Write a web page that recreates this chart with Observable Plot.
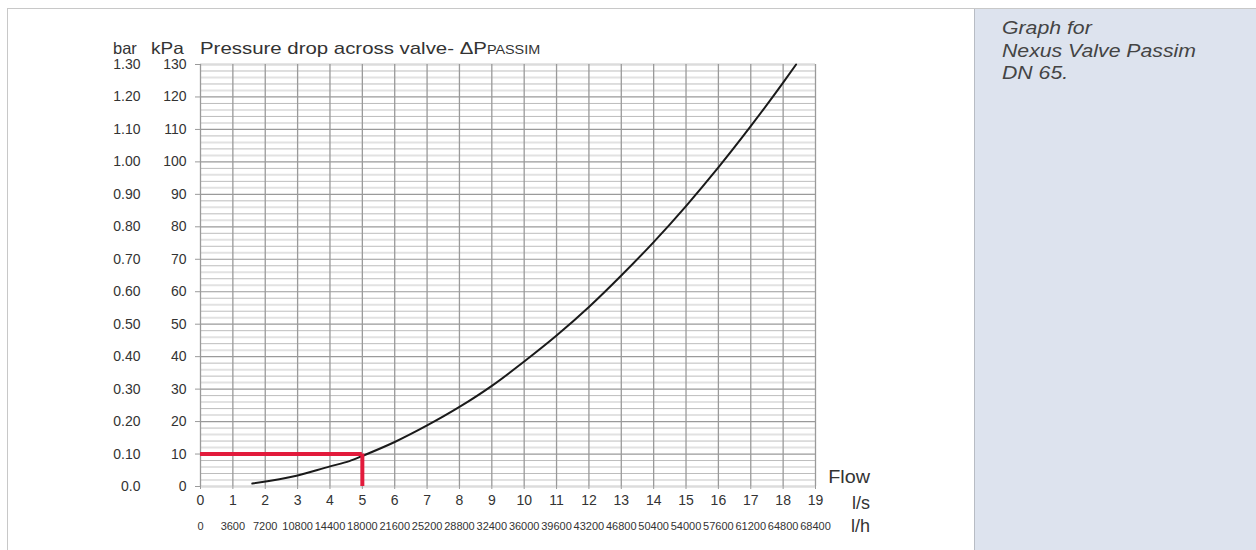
<!DOCTYPE html>
<html><head><meta charset="utf-8">
<script src="https://cdn.jsdelivr.net/npm/d3@7"></script>
<script src="https://cdn.jsdelivr.net/npm/@observablehq/plot@0.6"></script>
<style>
body{margin:0;background:#fff;font-family:"Liberation Sans",Arial,sans-serif;}
#wrap{position:relative;width:1256px;height:550px;overflow:hidden;background:#fff;}
#frame{position:absolute;left:7px;top:8px;width:1249px;height:542px;border-left:1px solid #c8c8c8;border-top:1px solid #c8c8c8;}
#panel{position:absolute;left:974px;top:9px;width:282px;height:541px;background:#dde3ee;border-left:1px solid #b8bcc4;}
#panel p{margin:0;position:absolute;left:27px;top:8px;font-style:italic;font-size:18px;line-height:22.5px;color:#444;transform:scaleX(1.18);transform-origin:0 0;white-space:nowrap;}
#chart{position:absolute;left:0;top:0;}
.lbl{position:absolute;color:#333;white-space:nowrap;line-height:1;}
</style></head>
<body>
<div id="wrap">
  <div id="frame"></div>
  <div id="panel"><p>Graph for<br>Nexus Valve Passim<br>DN 65.</p></div>
  <div id="chart"></div>
  <div class="lbl" style="left:113px;top:40px;font-size:16.5px;">bar</div>
  <div class="lbl" style="left:151px;top:40px;font-size:16.5px;transform:scaleX(1.15);transform-origin:0 0;">kPa</div>
  <div class="lbl" style="left:200px;top:39.5px;font-size:17px;transform:scaleX(1.2);transform-origin:0 0;">Pressure drop across valve- ΔP<span style="font-size:12px">PASSIM</span></div>
  <div class="lbl" style="right:386px;top:468px;font-size:18px;transform:scaleX(1.1);transform-origin:100% 0;">Flow</div>
  <div class="lbl" style="right:386px;top:494px;font-size:18px;">l/s</div>
  <div class="lbl" style="right:386px;top:517px;font-size:18px;">l/h</div>
</div>
<script>
// Data
const flowLs = [1.6, 3, 4, 4.6, 5, 6, 7, 8, 9, 10, 11, 12, 13, 14, 15, 16, 17, 18, 18.4];
const dpKpa  = [0.9, 3.4, 6.2, 7.8, 9.4, 13.7, 18.8, 24.5, 31, 38.5, 46.5, 55.3, 65, 75.3, 86.4, 98.3, 111, 124.4, 130];
const xTicks = [0,1,2,3,4,5,6,7,8,9,10,11,12,13,14,15,16,17,18,19];
const lhLabels = ["0","3600","7200","10800","14400","18000","21600","25200","28800","32400","36000","39600","43200","46800","50400","54000","57600","61200","64800","68400"];
const kpaTicks = [0,10,20,30,40,50,60,70,80,90,100,110,120,130];
const barLabels = ["0.0","0.10","0.20","0.30","0.40","0.50","0.60","0.70","0.80","0.90","1.00","1.10","1.20","1.30"];
const markFlow = [5];
const markDp = [10];

const curve = flowLs.map((x, i) => ({x, y: dpKpa[i]}));
const minorLight = d3.range(2, 130, 2).filter(v => v % 10 === 2 || v % 10 === 6);
const minorGray = d3.range(2, 130, 2).filter(v => v % 10 === 4 || v % 10 === 8);
const majors = kpaTicks.filter(v => v > 0 && v < 130);

const chart = Plot.plot({
  width: 970,
  height: 550,
  marginLeft: 200,
  marginRight: 155,
  marginTop: 64,
  marginBottom: 64,
  style: {fontFamily: '"Liberation Sans", Arial, sans-serif', color: "#333", background: "transparent", overflow: "visible"},
  x: {domain: [0, 19]},
  y: {domain: [0, 130]},
  marks: [
    Plot.ruleY(minorLight, {stroke: "#e2e2e2", strokeWidth: 2}),
    Plot.ruleY([0, 130], {stroke: "#dcdcdc", strokeWidth: 2.5}),
    Plot.ruleY(minorGray, {stroke: "#bdbdbd", strokeWidth: 1}),
    Plot.ruleY(majors, {stroke: "#9a9a9a", strokeWidth: 1.2}),
    Plot.ruleX(xTicks, {stroke: "#9a9a9a", strokeWidth: 1.3}),
    Plot.axisY(kpaTicks, {tickSize: 5, tickPadding: 9, fontSize: 14, stroke: "#9a9a9a", fill: "#333", label: null, tickFormat: d => String(d)}),
    Plot.axisY(kpaTicks, {tickSize: 0, tickPadding: 60, fontSize: 14, fill: "#333", label: null, tickFormat: d => barLabels[kpaTicks.indexOf(d)]}),
    Plot.axisX(xTicks, {tickSize: 3, tickPadding: 6, fontSize: 14, stroke: "#9a9a9a", fill: "#333", label: null, tickFormat: d => String(d)}),
    Plot.axisX(xTicks, {tickSize: 0, tickPadding: 36, fontSize: 11, fill: "#333", label: null, tickFormat: d => lhLabels[xTicks.indexOf(d)]}),
    Plot.line(curve, {x: "x", y: "y", stroke: "#1a1a1a", strokeWidth: 2, curve: "monotone-x"}),
    Plot.ruleY(markDp, {x1: 0, x2: markFlow[0], stroke: "#e21b3c", strokeWidth: 4}),
    Plot.ruleX(markFlow, {y1: 0, y2: markDp[0], stroke: "#e21b3c", strokeWidth: 4})
  ]
});
document.getElementById("chart").appendChild(chart);
</script>
</body></html>
